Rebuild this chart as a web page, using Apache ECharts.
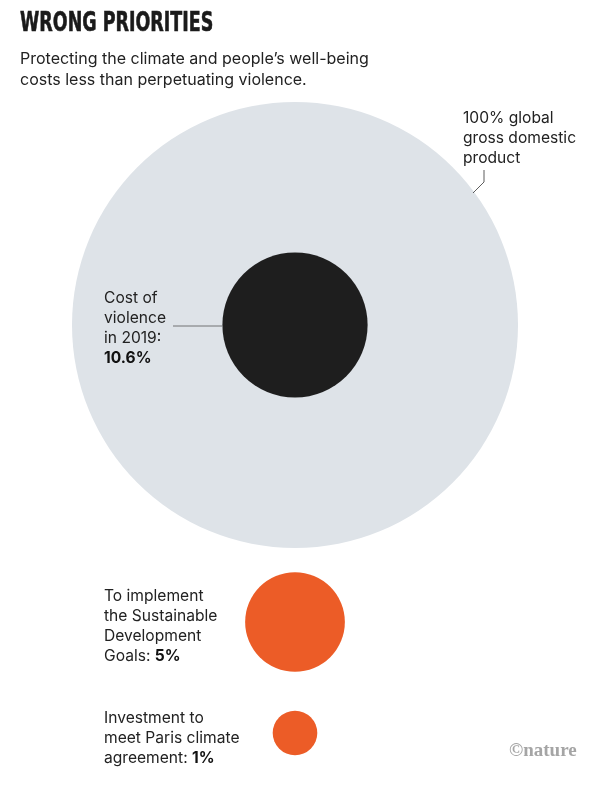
<!DOCTYPE html>
<html><head><meta charset="utf-8">
<script src="https://cdn.jsdelivr.net/npm/echarts@6/dist/echarts.min.js"></script>
<style>html,body{margin:0;padding:0;background:#fff}#c{width:600px;height:786px}</style>
</head><body><div id="c"></div>
<script>
// Data
var categories = ['100% global gross domestic product', 'Cost of violence in 2019', 'To implement the Sustainable Development Goals', 'Investment to meet Paris climate agreement'];
var valuesPctGDP = [100, 10.6, 5, 1];
var colorKeys = ['gdp', 'violence', 'spend', 'spend'];

// Layout (pixel positions of circle centres)
var centerX = [295, 295, 295, 295];
var centerY = [325, 325, 622, 733];
var fullDiameter = 446;
var palette = {gdp: '#dee3e8', violence: '#1e1e1e', spend: '#ec5c27'};

var chart = echarts.init(document.getElementById('c'));
var F = '"Inter", "Roboto", sans-serif';
var txt = '#222';
function label(x, y, lines) {
  return {
    type: 'text', left: x, top: y, z: 10,
    style: {
      text: lines, font: '15.6px ' + F, fill: txt, lineHeight: 20,
      rich: {b: {fontFamily: F, fontSize: 15.6, fontWeight: 'bold', fill: '#111', lineHeight: 20}}
    }
  };
}
var seriesData = valuesPctGDP.map(function (v, i) {
  return {name: categories[i], value: [centerX[i], centerY[i], v], itemStyle: {color: palette[colorKeys[i]], opacity: 1}};
});
chart.setOption({
  animation: false,
  grid: {left: 0, right: 0, top: 0, bottom: 0},
  xAxis: {type: 'value', min: 0, max: 600, show: false},
  yAxis: {type: 'value', min: 0, max: 786, inverse: true, show: false},
  series: [{
    type: 'scatter',
    symbol: 'circle',
    symbolSize: function (val) { return fullDiameter * Math.sqrt(val[2] / 100); },
    data: seriesData,
    itemStyle: {opacity: 1},
    silent: true
  }],
  graphic: [
    {type: 'text', x: 20, y: 10, scaleX: 0.72, style: {text: 'WRONG PRIORITIES', font: 'bold 27px "DejaVu Sans Condensed", "Liberation Sans Narrow", sans-serif', fill: '#1a1a1a', stroke: '#1a1a1a', lineWidth: 0.6}},
    {type: 'text', left: 20, top: 49, style: {text: 'Protecting the climate and people\u2019s well-being\ncosts less than perpetuating violence.', font: '16px ' + F, fill: txt, lineHeight: 21}},
    label(463, 108, '100% global\ngross domestic\nproduct'),
    {type: 'polyline', z: 10, shape: {points: [[484, 170], [484, 182], [473, 193]]}, style: {stroke: '#333', lineWidth: 0.8, fill: null}},
    label(104, 288, 'Cost of\nviolence\nin 2019:\n{b|10.6%}'),
    {type: 'line', z: 10, shape: {x1: 173, y1: 326, x2: 222, y2: 326}, style: {stroke: '#555', lineWidth: 0.8}},
    label(104, 586, 'To implement\nthe Sustainable\nDevelopment\nGoals: {b|5%}'),
    label(104, 708, 'Investment to\nmeet Paris climate\nagreement: {b|1%}'),
    {type: 'text', left: 509, top: 742, style: {text: '\u00a9nature', font: 'bold 19px "Liberation Serif", serif', fill: '#a5a5a5'}}
  ]
});
</script></body></html>
